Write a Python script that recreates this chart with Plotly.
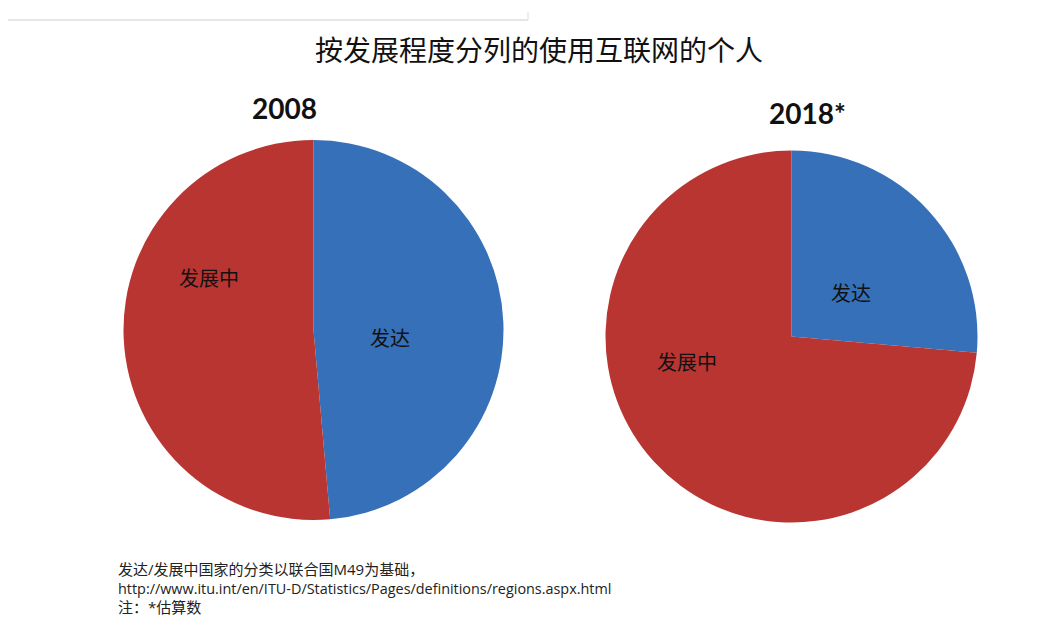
import plotly.graph_objects as go

# page body has an 8px margin, so the figure is drawn 8px in from the corner
OFF = 8
W, H = 1043 - OFF, 617 - OFF

# data
labels = ["发达", "发展中"]
share_2008 = [48.6, 51.4]
share_2018 = [26.4, 73.6]
years = ["2008", "2018*"]

colors = ["#3570b9", "#b83532"]

title = "按发展程度分列的使用互联网的个人"
notes = [
    "发达/发展中国家的分类以联合国M49为基础，",
    "http://www.itu.int/en/ITU-D/Statistics/Pages/definitions/regions.aspx.html",
    "注：*估算数",
]


def px_x(x):
    return (x - OFF) / W


def px_y(y):
    return 1 - (y - OFF) / H


# pie domain from pixel centre and radius
def domain(cx, cy, r):
    return dict(x=[px_x(cx - r), px_x(cx + r)], y=[px_y(cy + r), px_y(cy - r)])


fig = go.Figure()
fig.add_trace(go.Pie(labels=labels, values=share_2008, sort=False, direction="clockwise",
                     rotation=0, marker=dict(colors=colors, line=dict(width=0)),
                     textinfo="none", hoverinfo="label+percent", showlegend=False,
                     domain=domain(313.5, 330, 190)))
fig.add_trace(go.Pie(labels=labels, values=share_2018, sort=False, direction="clockwise",
                     rotation=0, marker=dict(colors=colors, line=dict(width=0)),
                     textinfo="none", hoverinfo="label+percent", showlegend=False,
                     domain=domain(791.5, 336.5, 186)))

cjk = "Noto Sans CJK SC"
ann = []
# title
ann.append(dict(text=title, x=px_x(539), y=px_y(49), font=dict(family=cjk, size=28, color="#111")))
# year headers
ann.append(dict(text="<b>" + years[0] + "</b>", x=px_x(284), y=px_y(108),
                font=dict(family="Lato, Liberation Sans", size=28, color="#111")))
ann.append(dict(text="<b>" + years[1] + "</b>", x=px_x(807), y=px_y(113),
                font=dict(family="Lato, Liberation Sans", size=28, color="#111")))
# slice labels
for txt, (x, y) in zip(labels, [(390, 337), (209, 277)]):
    ann.append(dict(text=txt, x=px_x(x), y=px_y(y), font=dict(family=cjk, size=20, color="#111")))
for txt, (x, y) in zip(labels, [(851, 292), (687, 361)]):
    ann.append(dict(text=txt, x=px_x(x), y=px_y(y), font=dict(family=cjk, size=20, color="#111")))
# footnote lines
for line, y, fs in zip(notes, [569, 588, 607], [15, 14.4, 15]):
    ann.append(dict(text=line, x=px_x(116), y=px_y(y), xanchor="left",
                    font=dict(family="Open Sans, " + cjk, size=fs, color="#222")))

for a in ann:
    a.setdefault("xanchor", "center")
    a.update(xref="paper", yref="paper", yanchor="middle", showarrow=False)

fig.update_layout(
    width=W, height=H,
    margin=dict(l=0, r=0, t=0, b=0),
    paper_bgcolor="white",
    annotations=ann,
    shapes=[
        dict(type="line", xref="paper", yref="paper", x0=px_x(8), x1=px_x(528),
             y0=px_y(20), y1=px_y(20), line=dict(color="#dcdcdc", width=1.5)),
        dict(type="line", xref="paper", yref="paper", x0=px_x(528), x1=px_x(528),
             y0=px_y(12), y1=px_y(20), line=dict(color="#dcdcdc", width=1)),
    ],
)

fig.write_html("out.html")
